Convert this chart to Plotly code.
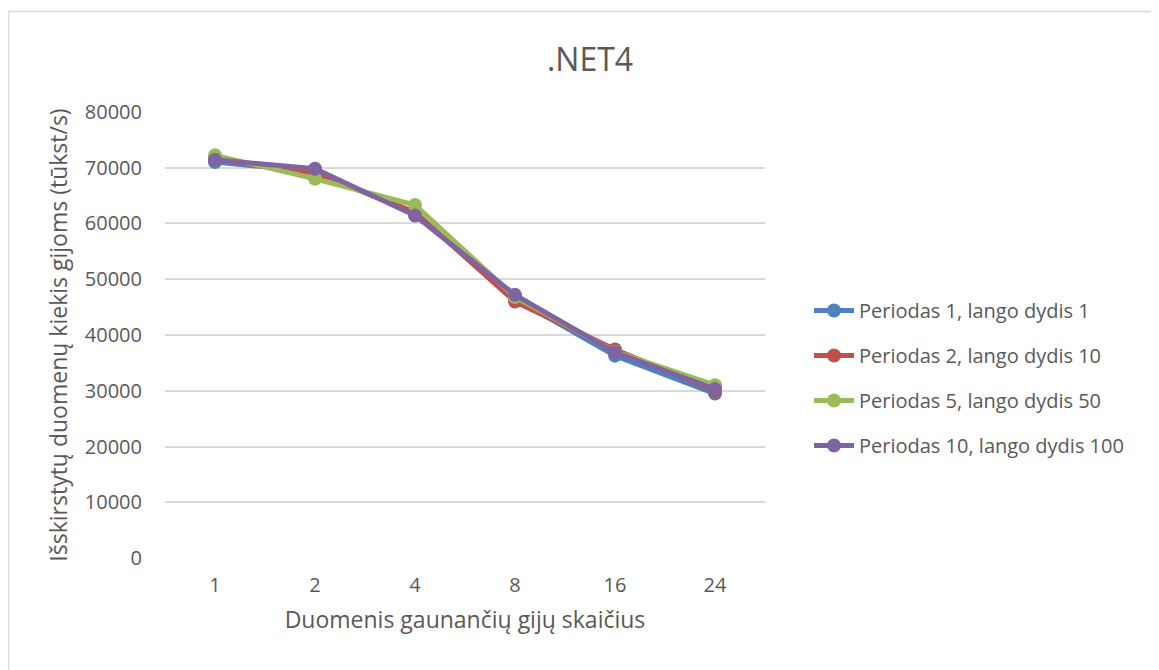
import plotly.graph_objects as go

categories = ["1", "2", "4", "8", "16", "24"]
series_names = [
    "Periodas 1, lango dydis 1",
    "Periodas 2, lango dydis 10",
    "Periodas 5, lango dydis 50",
    "Periodas 10, lango dydis 100",
]
p1 = [71000, 69300, 61800, 46500, 36300, 29500]
p2 = [71500, 69000, 62000, 46000, 37400, 30000]
p5 = [72200, 68000, 63300, 46800, 37000, 31000]
p10 = [71400, 69800, 61400, 47200, 36900, 30300]
err = [900, 900, 900, 900, 900, 900]

colors = ["#4F81BD", "#C0504D", "#9BBB59", "#8064A2"]
FONT = "Open Sans"
TXT = "#595959"

fig = go.Figure()
for i, (name, vals, col) in enumerate(zip(series_names, [p1, p2, p5, p10], colors)):
    fig.add_trace(go.Scatter(
        x=categories, y=vals, name=name, mode="lines+markers",
        legendgroup="g%d" % i,
        line=dict(color=col, width=5),
        marker=dict(color=col, size=14),
        error_y=dict(type="data", array=err, visible=True, color="#404040", thickness=1.5, width=0),
    ))

# page has 8px body margin; figure coordinates = page coordinates - 8
OFF = 8
W, H = 1159 - OFF, 670 - OFF
L, T = 165 - OFF, 111 - OFF
pw, ph = 600, 448
R, B = W - L - pw, H - T - ph

def px_to_paper_x(px):
    return (px - OFF - L) / pw

def py_to_paper_y(py):
    return (T + ph - (py - OFF)) / ph

fig.update_layout(
    width=W, height=H,
    margin=dict(l=L, r=R, t=T, b=B),
    paper_bgcolor="white", plot_bgcolor="white",
    font=dict(family=FONT, color=TXT, size=20),
    title=dict(text=".NET4", x=px_to_paper_x(590), xref="paper", xanchor="center",
               y=1 - (60 - OFF) / H, yanchor="middle", font=dict(size=32, color=TXT)),
    xaxis=dict(type="category", range=[-0.5, 5.5], showgrid=False, zeroline=False,
               showline=False, ticks="", tickfont=dict(size=20, color=TXT),
               ticklabelstandoff=12,
               title=dict(text="Duomenis gaunančių gijų skaičius", font=dict(size=23, color=TXT), standoff=14)),
    yaxis=dict(range=[-150, 80150], tickvals=[0, 10000, 20000, 30000, 40000, 50000, 60000, 70000, 80000],
               tickformat="d", showgrid=True, gridcolor="#D9D9D9", gridwidth=1.5,
               zeroline=False, showline=False, ticks="", tickfont=dict(size=20, color=TXT),
               ticklabelstandoff=22,
               title=dict(text="Išskirstytų duomenų kiekis gijoms (tūkst/s)", font=dict(size=23, color=TXT), standoff=10)),
    legend=dict(x=px_to_paper_x(809), xanchor="left", y=py_to_paper_y(378), yanchor="middle",
                font=dict(size=20, color=TXT), tracegroupgap=16, itemwidth=40,
                bgcolor="rgba(0,0,0,0)"),
    showlegend=True,
)
fig.add_shape(type="rect", xref="paper", yref="paper",
              x0=px_to_paper_x(8.5), x1=px_to_paper_x(1175),
              y0=py_to_paper_y(690), y1=py_to_paper_y(11.5),
              line=dict(color="#D9D9D9", width=1.5), fillcolor="rgba(0,0,0,0)", layer="below")

fig.write_html("out.html")
